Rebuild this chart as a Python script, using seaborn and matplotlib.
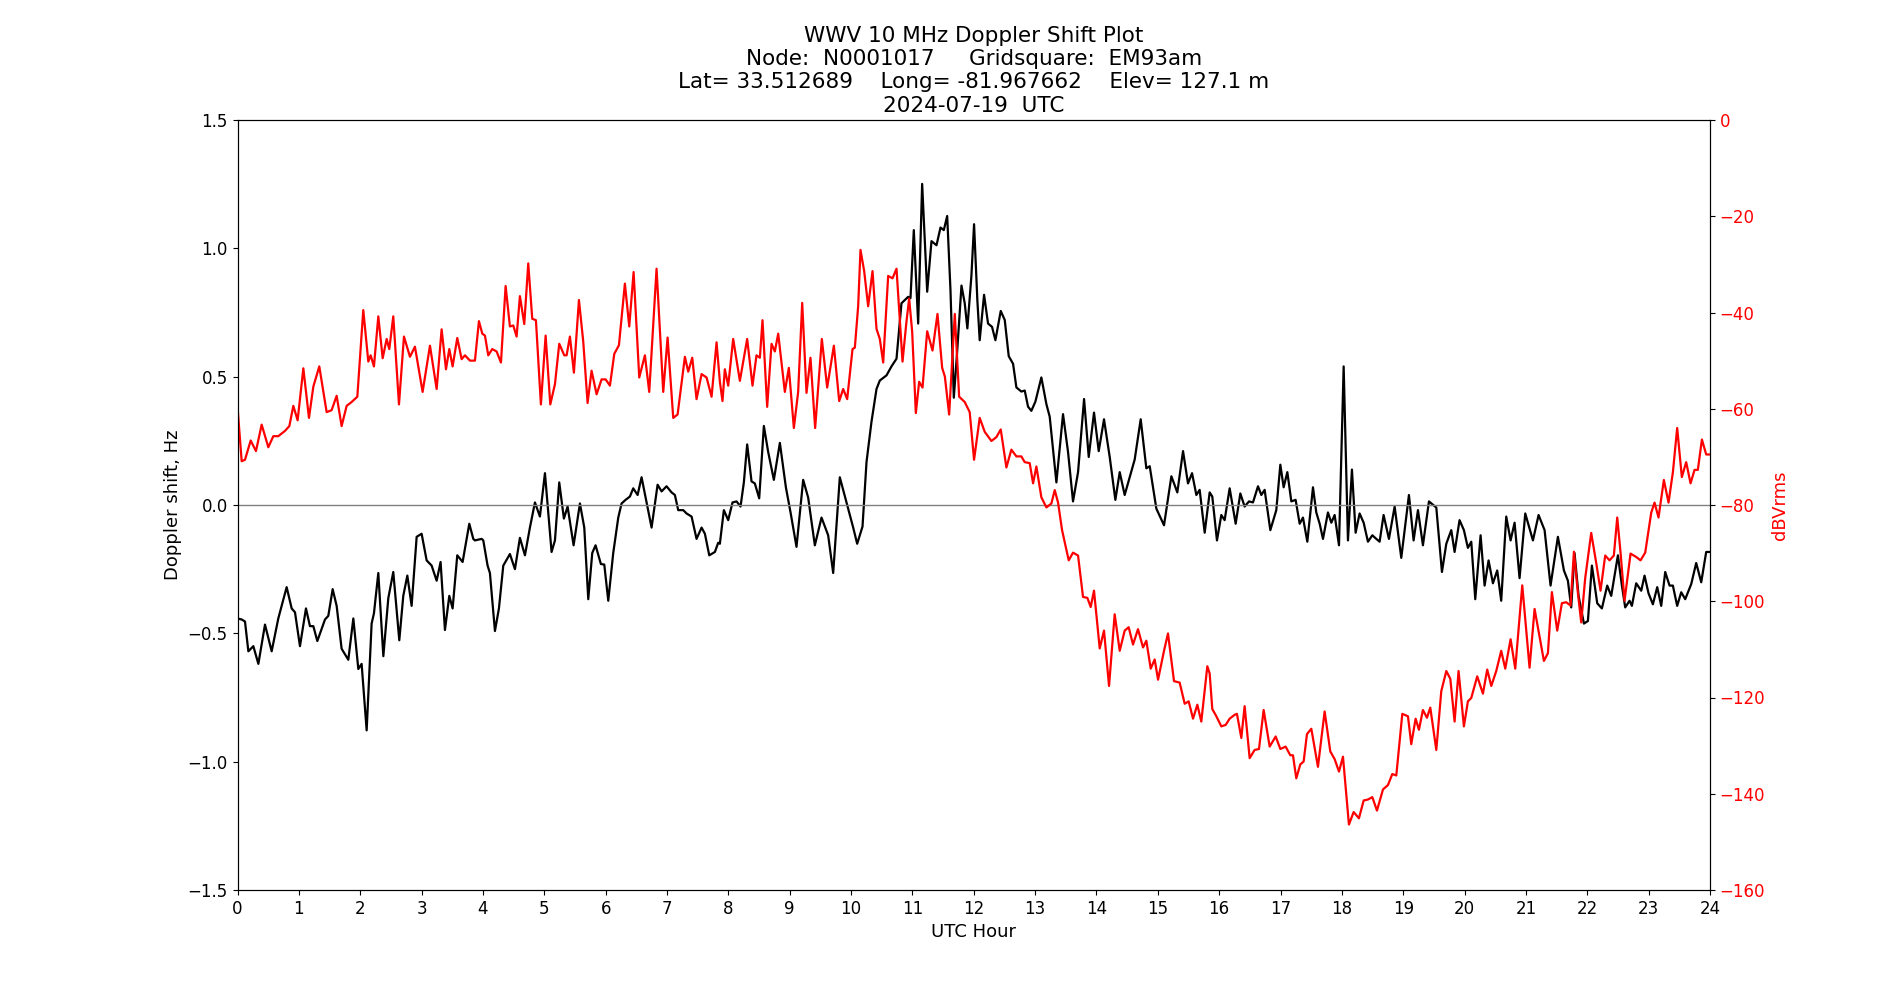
import matplotlib
import matplotlib.pyplot as plt
import pandas as pd
import seaborn as sns

matplotlib.use('Agg')

# Doppler shift (Hz)
doppler_hours = [
    0.0, 0.068, 0.122, 0.177, 0.258, 0.34, 0.448, 0.557, 0.665, 0.801, 0.883, 0.937, 1.018, 1.116, 1.181,
    1.236, 1.301, 1.426, 1.48, 1.551, 1.616, 1.697, 1.806, 1.888, 1.969, 2.023, 2.105, 2.186, 2.224, 2.295,
    2.377, 2.458, 2.539, 2.637, 2.702, 2.768, 2.838, 2.92, 3.001, 3.083, 3.164, 3.246, 3.31, 3.381, 3.452,
    3.506, 3.582, 3.669, 3.778, 3.843,
    3.87, 3.979, 4.006, 4.076, 4.114, 4.196, 4.261, 4.332, 4.44, 4.522, 4.603, 4.685, 4.766, 4.848, 4.929,
    5.011, 5.119, 5.174, 5.244, 5.32, 5.38, 5.478, 5.581, 5.652, 5.717, 5.782, 5.836, 5.923, 5.978, 6.043,
    6.124, 6.206, 6.26, 6.325, 6.396, 6.45, 6.521, 6.586, 6.651, 6.749, 6.847, 6.912, 6.993, 7.075, 7.129,
    7.183, 7.265, 7.319, 7.401, 7.482, 7.564, 7.618, 7.689, 7.781, 7.835,
    7.862, 7.927, 7.998, 8.068, 8.134, 8.199, 8.253, 8.307, 8.378, 8.432, 8.503, 8.579, 8.65, 8.742, 8.84,
    8.938, 9.014, 9.111, 9.22, 9.301, 9.41, 9.519, 9.627, 9.709, 9.817, 9.926, 10.035, 10.1, 10.187, 10.252,
    10.333, 10.415, 10.469, 10.578, 10.659, 10.741, 10.822, 10.931, 10.969, 11.023, 11.094, 11.159, 11.241,
    11.311, 11.393, 11.458, 11.512, 11.567, 11.621, 11.675, 11.73, 11.8,
    11.853, 11.896, 11.962, 12.005, 12.059, 12.097, 12.168, 12.233, 12.298, 12.353, 12.44, 12.505, 12.57,
    12.641, 12.695, 12.776, 12.831, 12.885, 12.939, 13.005, 13.102, 13.184, 13.238, 13.347, 13.455, 13.537,
    13.618, 13.7, 13.798, 13.874, 13.96, 14.037, 14.123, 14.216, 14.308, 14.379, 14.46, 14.569, 14.623,
    14.721, 14.813, 14.868, 14.976, 15.101, 15.221, 15.318, 15.411, 15.492, 15.558, 15.628, 15.682, 15.764,
    15.845, 15.888, 15.964, 16.035, 16.089, 16.171, 16.269, 16.345, 16.415, 16.486, 16.551, 16.633, 16.687,
    16.741, 16.834, 16.931, 16.997, 17.051, 17.111, 17.176, 17.246, 17.312, 17.366, 17.437, 17.529, 17.583,
    17.638, 17.692, 17.773, 17.828, 17.882, 17.953, 18.029, 18.099, 18.164, 18.224, 18.289, 18.355, 18.425,
    18.496, 18.561, 18.615, 18.68, 18.767, 18.86, 18.968, 19.093, 19.169, 19.24, 19.321, 19.419, 19.539,
    19.631, 19.702, 19.783,
    19.837, 19.918, 19.989, 20.054, 20.109, 20.174, 20.261, 20.326, 20.391, 20.462, 20.532, 20.597, 20.679,
    20.75, 20.815, 20.896, 20.989, 21.114, 21.206, 21.304, 21.401, 21.521, 21.619, 21.684, 21.738, 21.792,
    21.858, 21.945, 22.01, 22.075, 22.162, 22.238, 22.325, 22.39, 22.499, 22.564, 22.618, 22.689, 22.727,
    22.797, 22.879, 22.933, 22.998, 23.069, 23.14, 23.205, 23.27, 23.341, 23.395, 23.465, 23.531, 23.596,
    23.694, 23.775, 23.857, 23.938, 24.0,
]
doppler_hz = [
    -0.442, -0.446, -0.454, -0.570, -0.550, -0.619, -0.466, -0.570, -0.442, -0.320, -0.403, -0.418, -0.550,
    -0.403, -0.472, -0.472, -0.530, -0.446, -0.432, -0.328, -0.393, -0.560, -0.603, -0.442, -0.639, -0.619,
    -0.878, -0.462, -0.422, -0.265, -0.589, -0.363, -0.261, -0.527, -0.354, -0.275, -0.393, -0.124, -0.112,
    -0.216, -0.236, -0.295, -0.222, -0.487, -0.354, -0.403, -0.196, -0.222, -0.073, -0.132,
    -0.138, -0.132, -0.138, -0.236, -0.265, -0.491, -0.403, -0.236, -0.191, -0.250, -0.128, -0.196, -0.088,
    0.010, -0.045, 0.124, -0.183, -0.138, 0.088, -0.053, -0.006, -0.157, 0.006, -0.088, -0.367, -0.187,
    -0.157, -0.230, -0.232, -0.373, -0.187, -0.049, 0.006, 0.020, 0.033, 0.065, 0.039, 0.108, 0.029, -0.088,
    0.079, 0.053, 0.073, 0.049, 0.039, -0.020, -0.020, -0.033, -0.045, -0.132, -0.088, -0.112, -0.196,
    -0.183, -0.147,
    -0.151, -0.020, -0.059, 0.010, 0.014, -0.006, 0.088, 0.236, 0.092, 0.084, 0.026, 0.308, 0.206, 0.098,
    0.242, 0.069, -0.029, -0.163, 0.098, 0.029, -0.157, -0.049, -0.118, -0.265, 0.108, 0.010, -0.088, -0.151,
    -0.084, 0.167, 0.324, 0.452, 0.485, 0.505, 0.540, 0.570, 0.786, 0.811, 0.806, 1.071, 0.707, 1.251, 0.831,
    1.028, 1.012, 1.081, 1.071, 1.126, 0.835, 0.418, 0.599, 0.855,
    0.786, 0.688, 0.894, 1.094, 0.796, 0.642, 0.819, 0.707, 0.694, 0.642, 0.756, 0.721, 0.580, 0.550, 0.458,
    0.442, 0.446, 0.383, 0.367, 0.403, 0.497, 0.393, 0.344, 0.088, 0.354, 0.206, 0.014, 0.128, 0.413, 0.187,
    0.360, 0.210, 0.334, 0.187, 0.020, 0.128, 0.039, 0.132, 0.177, 0.334, 0.143, 0.151, -0.014, -0.079,
    0.112, 0.049, 0.210, 0.084, 0.124, 0.039, 0.059, -0.108,
    0.049, 0.033, -0.138, -0.039, -0.059, 0.065, -0.073, 0.045, -0.006, 0.014, 0.010, 0.073, 0.039, 0.059,
    -0.098, -0.020, 0.157, 0.069, 0.128, 0.014, 0.020, -0.073, -0.049, -0.143, 0.069, -0.029, -0.073, -0.132,
    -0.029, -0.069, -0.039, -0.157, 0.540, -0.138, 0.138, -0.108, -0.033, -0.069, -0.143, -0.118, -0.132,
    -0.143, -0.039, -0.132, -0.006, -0.206, 0.039, -0.138, -0.020, -0.157, 0.014, -0.010, -0.261, -0.151,
    -0.098,
    -0.183, -0.059, -0.098, -0.167, -0.143, -0.367, -0.118, -0.314, -0.216, -0.305, -0.255, -0.373, -0.045,
    -0.138, -0.069, -0.285, -0.033, -0.138, -0.039, -0.098, -0.314, -0.124, -0.255, -0.295, -0.399, -0.187,
    -0.354, -0.462, -0.452, -0.236, -0.383, -0.403, -0.314, -0.354, -0.196, -0.314, -0.399, -0.373, -0.393,
    -0.305, -0.334, -0.275, -0.344, -0.387, -0.320, -0.393, -0.261, -0.314, -0.314, -0.393, -0.340, -0.367,
    -0.308, -0.226, -0.301, -0.183, -0.183,
]

# received level (dBVrms)
power_hours = [
    0.0, 0.068, 0.122, 0.215, 0.301, 0.394, 0.502, 0.584, 0.665, 0.774, 0.845, 0.910, 0.98, 1.073, 1.165,
    1.236, 1.333, 1.453, 1.534, 1.616, 1.697, 1.779, 1.86, 1.953, 2.05, 2.132, 2.17, 2.224, 2.295, 2.366,
    2.431, 2.474, 2.539, 2.632, 2.713, 2.811, 2.892, 3.017, 3.137, 3.246, 3.327, 3.398, 3.452, 3.506, 3.582,
    3.653, 3.707, 3.789,
    3.87, 3.935, 3.99, 4.033, 4.087, 4.152, 4.223, 4.294, 4.37, 4.44, 4.495, 4.549, 4.603, 4.674, 4.739,
    4.804, 4.864, 4.945, 5.022, 5.098, 5.174, 5.244, 5.326, 5.364, 5.418, 5.483, 5.565, 5.635, 5.706, 5.771,
    5.853, 5.934, 6.0, 6.07, 6.141, 6.217, 6.314, 6.385, 6.456, 6.548, 6.64, 6.711, 6.83, 6.939, 7.01, 7.102,
    7.173, 7.292, 7.346, 7.412, 7.482, 7.564, 7.645, 7.727, 7.808,
    7.862, 7.905, 7.943, 7.998, 8.079, 8.188, 8.307, 8.394, 8.459, 8.514, 8.557, 8.633, 8.704, 8.758, 8.813,
    8.921, 8.986, 9.068, 9.138, 9.204, 9.274, 9.339, 9.415, 9.524, 9.611, 9.72, 9.807, 9.872, 9.937, 10.024,
    10.062, 10.116, 10.154, 10.214, 10.279, 10.35, 10.415, 10.469, 10.524, 10.605, 10.676, 10.741, 10.839,
    10.904, 10.947, 10.996, 11.056, 11.11, 11.165, 11.241, 11.328, 11.409, 11.485, 11.529, 11.599, 11.691,
    11.762,
    11.853, 11.934, 12.005, 12.097, 12.179, 12.288, 12.369, 12.44, 12.532, 12.613, 12.695, 12.776, 12.831,
    12.912, 12.967, 13.021, 13.102, 13.184, 13.265, 13.32, 13.374, 13.439, 13.548, 13.618, 13.7, 13.781,
    13.852, 13.906, 13.96, 14.053, 14.123, 14.205, 14.297, 14.379, 14.46, 14.525, 14.596, 14.677, 14.759,
    14.813, 14.884, 14.949, 15.004, 15.101, 15.166, 15.264, 15.356, 15.438, 15.503, 15.574, 15.644, 15.709,
    15.807,
    15.845, 15.888, 15.954, 16.035, 16.106, 16.171, 16.252, 16.29, 16.361, 16.415, 16.497, 16.578, 16.649,
    16.725, 16.823, 16.921, 16.997, 17.083, 17.159, 17.203, 17.257, 17.322, 17.377, 17.431, 17.502, 17.61,
    17.719, 17.811, 17.882, 17.953, 18.018, 18.115, 18.192, 18.278, 18.355, 18.425, 18.496, 18.572, 18.67,
    18.751, 18.822, 18.887, 18.985, 19.077, 19.131, 19.202, 19.256, 19.321, 19.387, 19.441, 19.539, 19.62,
    19.702, 19.767,
    19.837, 19.902, 19.946, 19.989, 20.054, 20.109, 20.206, 20.299, 20.369, 20.435, 20.516, 20.597, 20.663,
    20.75, 20.826, 20.94, 21.059, 21.141, 21.293, 21.358, 21.423, 21.51, 21.586, 21.657, 21.727, 21.782,
    21.847, 21.901, 21.966, 22.064, 22.145, 22.216, 22.292, 22.363, 22.433, 22.488, 22.542, 22.607, 22.705,
    22.797, 22.868, 22.944, 23.042, 23.096, 23.161, 23.248, 23.324, 23.395, 23.465, 23.541, 23.612, 23.683,
    23.748, 23.802, 23.868, 23.938, 24.0,
]
power_dbv = [
    -59.6, -70.9, -70.6, -66.6, -68.8, -63.3, -68.0, -65.7, -65.7, -64.6, -63.6, -59.4, -62.4, -51.6, -61.9,
    -55.4, -51.2, -60.7, -60.3, -57.3, -63.6, -59.4, -58.6, -57.5, -39.5, -50.2, -48.9, -51.2, -40.8, -49.5,
    -45.5, -47.6, -40.8, -59.1, -45.0, -49.2, -47.1, -56.5, -46.9, -55.9, -43.5, -51.8, -47.6, -51.2, -45.3,
    -49.7, -48.9, -50.0,
    -50.0, -41.8, -44.4, -44.8, -48.9, -47.6, -48.1, -50.4, -34.5, -42.9, -42.7, -45.0, -36.6, -42.4, -29.8,
    -41.3, -41.6, -59.1, -44.8, -59.1, -54.9, -46.5, -48.9, -48.9, -45.0, -52.5, -37.4, -46.0, -58.8, -52.1,
    -57.0, -53.9, -53.9, -55.2, -48.6, -46.8, -34.0, -42.9, -31.6, -53.5, -48.9, -56.5, -30.9, -56.5, -45.2,
    -61.9, -61.2, -49.2, -52.3, -49.4, -58.0, -52.8, -53.5, -57.5, -46.2,
    -54.4, -58.4, -51.8, -55.2, -45.5, -54.2, -45.5, -55.2, -48.9, -49.4, -41.6, -59.6, -46.5, -48.1, -44.4,
    -56.5, -51.5, -64.0, -56.5, -38.0, -56.7, -49.4, -64.0, -45.5, -55.6, -46.9, -58.4, -55.9, -58.0, -47.6,
    -47.3, -38.7, -27.0, -31.4, -38.7, -31.4, -43.4, -45.5, -50.4, -32.4, -32.9, -30.9, -50.2, -41.8, -37.1,
    -43.9, -60.9, -54.4, -55.6, -43.9, -47.9, -40.3, -51.5, -53.3, -61.2, -40.3, -57.5,
    -58.6, -60.7, -70.6, -61.9, -64.8, -66.7, -65.9, -64.3, -72.2, -68.5, -69.9, -69.9, -71.1, -71.3, -75.5,
    -72.0, -78.4, -80.5, -79.7, -76.9, -79.5, -85.2, -91.5, -89.9, -90.5, -99.1, -99.3, -101.2, -97.8,
    -109.8, -106.1, -117.6, -102.7, -110.3, -106.1, -105.4, -109.0, -105.8, -109.6, -108.2, -114.0, -112.1,
    -116.3, -110.3, -106.7, -116.6, -116.9, -121.3, -120.8, -124.4, -121.5, -125.0, -113.5,
    -115.0, -122.4, -123.9, -126.0, -125.7, -124.4, -123.6, -123.4, -128.4, -121.8, -132.6, -130.9, -130.7,
    -122.6, -130.2, -128.1, -130.7, -130.2, -132.0, -132.0, -136.8, -133.9, -133.3, -127.6, -126.5, -134.4,
    -122.9, -131.2, -132.8, -135.4, -132.3, -146.4, -143.8, -145.1, -141.4, -141.2, -140.7, -143.5, -139.1,
    -138.2, -135.9, -136.2, -123.4, -123.9, -129.7, -124.4, -126.7, -122.6, -124.2, -122.1, -130.9, -118.7,
    -114.5, -116.1,
    -125.0, -114.5, -120.3, -126.0, -120.8, -120.1, -115.6, -119.2, -114.2, -117.6, -114.5, -110.3, -114.0,
    -107.9, -114.0, -96.7, -113.8, -101.6, -112.4, -110.8, -98.1, -106.1, -100.4, -100.2, -100.9, -89.7,
    -98.3, -104.4, -95.2, -85.8, -92.0, -97.8, -90.5, -91.5, -90.5, -82.6, -89.9, -99.9, -90.1, -90.8,
    -91.5, -89.9, -81.6, -79.5, -82.6, -74.8, -79.5, -73.2, -64.0, -74.2, -71.1, -75.5, -72.7, -72.7, -66.4,
    -69.5, -69.5,
]

hour_ticks = list(range(0, 25))

title = ("WWV 10 MHz Doppler Shift Plot\n"
         "Node:  N0001017     Gridsquare:  EM93am\n"
         "Lat= 33.512689    Long= -81.967662    Elev= 127.1 m\n"
         "2024-07-19  UTC")

doppler = pd.DataFrame({'hour': doppler_hours, 'hz': doppler_hz})
power = pd.DataFrame({'hour': power_hours, 'db': power_dbv})

fig, ax = plt.subplots(figsize=(19, 10), dpi=100)

# black trace: Doppler shift on the left axis
sns.lineplot(data=doppler, x='hour', y='hz', ax=ax, color='black', linewidth=1.6,
             estimator=None, sort=False)
ax.axhline(0, color='gray', linewidth=1)
ax.set_xlim(0, 24)
ax.set_ylim(-1.5, 1.5)
ax.set_xticks(hour_ticks)
ax.tick_params(labelsize=12)
ax.set_xlabel('UTC Hour', fontsize=13)
ax.set_ylabel('Doppler shift, Hz', fontsize=13)
ax.set_title(title, fontsize=15.5)

# red trace: signal level on the right axis
ax2 = ax.twinx()
sns.lineplot(data=power, x='hour', y='db', ax=ax2, color='red', linewidth=1.6,
             estimator=None, sort=False)
ax2.set_ylim(-160, 0)
ax2.tick_params(axis='y', labelcolor='red', labelsize=12)
ax2.set_ylabel('dBVrms', color='red', fontsize=13)
ax2.set_xlim(0, 24)

plt.savefig('out.png')
